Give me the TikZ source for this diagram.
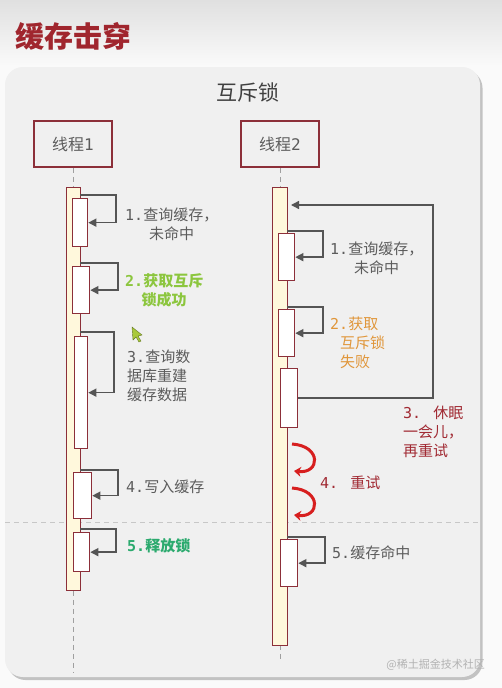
\documentclass[tikz,border=0pt]{standalone}
\usepackage{fontspec}
\setmainfont{Noto Sans CJK SC}
\newfontfamily\monofnt{DejaVu Sans Mono}
\usetikzlibrary{arrows.meta,shadows}
\definecolor{bgtop}{HTML}{E0E0E0}
\definecolor{bgw}{HTML}{FAFAFA}
\definecolor{panelc}{HTML}{F0F0F0}
\definecolor{bord}{HTML}{8C2F39}
\definecolor{titlered}{HTML}{A0262E}
\definecolor{cream}{HTML}{FFF8DC}
\definecolor{linec}{HTML}{555555}
\definecolor{txtc}{HTML}{5C5C5C}
\definecolor{lgreen}{HTML}{8CC63E}
\definecolor{tgreen}{HTML}{2BAA6E}
\definecolor{orng}{HTML}{E0963A}
\definecolor{dkred}{HTML}{A12A33}
\definecolor{swoosh}{HTML}{D71F1F}
\definecolor{cursorc}{HTML}{A9C93A}
\newcommand{\dg}[1]{{\monofnt #1}}
\begin{document}
\begin{tikzpicture}[x=1pt,y=-1pt,
  thread/.style={draw=bord,line width=1.5pt,fill=panelc,minimum width=78pt,minimum height=46pt,inner sep=0pt,font=\fontsize{16}{18}\selectfont,text=txtc},
  actbar/.style={draw=bord,line width=1.3pt,fill=cream,anchor=north west,inner sep=0pt},
  ibox/.style={draw=bord,line width=1.3pt,fill=white,anchor=north west,inner sep=0pt},
  msg/.style={draw=linec,line width=1.4pt,-{Triangle[length=8pt,width=8pt]}},
  lifeline/.style={draw=gray!75,line width=1pt,dash pattern=on 5pt off 4pt},
  lbl/.style={anchor=west,inner sep=0pt,align=left,font=\fontsize{15}{19}\selectfont,text=txtc},
  swoop/.style={draw=swoosh,line width=3pt,-{Stealth[length=7pt,width=10pt]}}
]
\useasboundingbox (0,0) rectangle (502,688);
% background
\fill[bgw] (0,0) rectangle (502,688);
\shade[top color=bgtop,bottom color=bgw] (0,0) rectangle (502,66);
% title
\node[anchor=west,inner sep=0pt,text=titlered,font=\bfseries\fontsize{29}{31}\selectfont] (title) at (15,36) {缓存击穿};
% panel
\fill[panelc,rounded corners=18pt,drop shadow={shadow xshift=2.5pt,shadow yshift=-3pt,opacity=0.45,fill=black!50}] (5,67) rectangle (480,677);
\node[inner sep=0pt,text=black!75,font=\fontsize{21}{23}\selectfont] (ptitle) at (248,92) {互斥锁};
% separator
\coordinate (sepL) at (5,522);
\coordinate (sepR) at (480,522);
\draw[draw=black!22,line width=1pt,dash pattern=on 5pt off 4pt] (sepL) -- (sepR);
% threads
\node[thread] (th1) at (73,144) {线程\dg{1}};
\node[thread] (th2) at (280,144) {线程\dg{2}};
\coordinate (end1) at (73,673);
\coordinate (end2) at (280,662);
\draw[lifeline] (th1.south) -- (end1);
\draw[lifeline] (th2.south) -- (end2);
% activation bars
\node[actbar,minimum width=14pt,minimum height=403pt] (bar1) at (66,187) {};
\node[actbar,minimum width=15pt,minimum height=458pt] (bar2) at (272,187) {};
% thread 1 boxes
\node[ibox,minimum width=15pt,minimum height=48pt] (b1) at (72,198) {};
\node[ibox,minimum width=17pt,minimum height=47pt] (b2) at (72,266) {};
\node[ibox,minimum width=13pt,minimum height=112pt] (b3) at (74,336) {};
\node[ibox,minimum width=18pt,minimum height=46pt] (b4) at (73,472) {};
\node[ibox,minimum width=16pt,minimum height=39pt] (b5) at (73,532) {};
% thread 2 boxes
\node[ibox,minimum width=16pt,minimum height=47pt] (c1) at (278,233) {};
\node[ibox,minimum width=16pt,minimum height=47pt] (c2) at (278,309) {};
\node[ibox,minimum width=17pt,minimum height=59pt] (c3) at (280,368) {};
\node[ibox,minimum width=17pt,minimum height=47pt] (c5) at (280,539) {};
% self loops thread 1
\coordinate (l1) at (80,195);
\coordinate (l2) at (80,263);
\coordinate (l3) at (80,332);
\coordinate (l4) at (80,470);
\coordinate (l5) at (80,529);
\draw[msg] (l1) -- ++(36,0) |- (b1.east);
\draw[msg] (l2) -- ++(38,0) |- (b2.east);
\draw[msg] (l3) -- ++(34,0) |- (b3.east);
\draw[msg] (l4) -- ++(38,0) |- (b4.east);
\draw[msg] (l5) -- ++(36,0) |- (b5.east);
% self loops thread 2
\coordinate (m1) at (287,231);
\coordinate (m2) at (287,307);
\coordinate (m5) at (287,537);
\draw[msg] (m1) -- ++(36,0) |- (c1.east);
\draw[msg] (m2) -- ++(36,0) |- (c2.east);
\draw[msg] (m5) -- ++(38,0) |- (c5.east);
% sleep and retry loop
\coordinate (sleepR) at (433,205);
\coordinate (sleepT) at (291,205);
\draw[msg] (c3.east) -| (sleepR) -- (sleepT);
% retry swooshes
\coordinate (s1a) at (292,444);
\coordinate (s1b) at (294,471);
\coordinate (s2a) at (292,488);
\coordinate (s2b) at (294,515);
\draw[swoop] (s1a) .. controls (322,446) and (320,474) .. (s1b);
\draw[swoop] (s2a) .. controls (322,490) and (320,518) .. (s2b);
% labels thread 1
\node[lbl,align=center] (t1) at (125,224) {\dg{1.}查询缓存，\\未命中};
\node[lbl,align=center,text=lgreen,font=\bfseries\fontsize{15}{19}\selectfont] (t2) at (125,290) {\dg{2.}获取互斥\\锁成功};
\node[lbl] (t3) at (127,376) {\dg{3.}查询数\\据库重建\\缓存数据};
\node[lbl] (t4) at (126,487) {\dg{4.}写入缓存};
\node[lbl,text=tgreen,font=\bfseries\fontsize{15}{19}\selectfont] (t5) at (127,546) {\dg{5.}释放锁};
% labels thread 2
\node[lbl,align=center] (u1) at (330,258) {\dg{1.}查询缓存，\\未命中};
\node[lbl,text=orng] (u2) at (330,343) {\dg{2.}获取\\\hspace*{10pt}互斥锁\\\hspace*{10pt}失败};
\node[lbl,text=dkred] (u3) at (403,432) {\dg{3.}\hspace{12pt}休眠\\一会儿，\\再重试};
\node[lbl,text=dkred] (u4) at (320,483) {\dg{4.}\hspace{12pt}重试};
\node[lbl] (u5) at (332,553) {\dg{5.}缓存命中};
% cursor
\fill[cursorc,draw=cursorc!60!black,line width=0.4pt] (132,327) -- (133,340) -- (136,337) -- (139,342) -- (141,341) -- (138,336) -- (142,335) -- cycle;
% watermark
\node[anchor=east,inner sep=0pt,text=black!30,font=\fontsize{11}{12}\selectfont] (wm) at (485,665) {@稀土掘金技术社区};
\end{tikzpicture}
\end{document}
